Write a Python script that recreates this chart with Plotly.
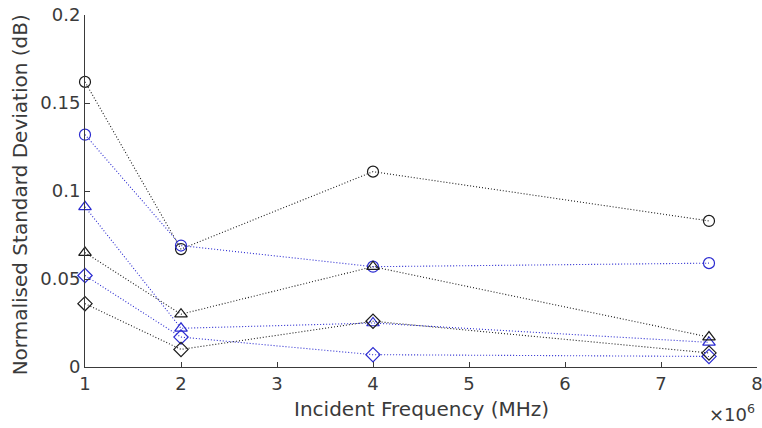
import plotly.graph_objects as go

# Incident frequencies (Hz)
freq = [1e6, 2e6, 4e6, 7.5e6]

# Normalised standard deviation (dB) per configuration
black_circle = [0.162, 0.067, 0.111, 0.083]
blue_circle = [0.132, 0.069, 0.057, 0.059]
blue_triangle = [0.091, 0.022, 0.025, 0.014]
black_triangle = [0.065, 0.030, 0.057, 0.017]
blue_diamond = [0.052, 0.017, 0.007, 0.006]
black_diamond = [0.036, 0.010, 0.026, 0.008]

x_tickvals = [1e6, 2e6, 3e6, 4e6, 5e6, 6e6, 7e6, 8e6]
x_ticktext = ["1", "2", "3", "4", "5", "6", "7", "8"]
y_tickvals = [0, 0.05, 0.1, 0.15, 0.2]
y_ticktext = ["0", "0.05", "0.1", "0.15", "0.2"]

BLACK = "#1a1a1a"
BLUE = "#2a2ad0"
AXIS = "#3a3a3a"
FONT = "DejaVu Sans"

series = [
    (black_circle, BLACK, "circle-open"),
    (blue_circle, BLUE, "circle-open"),
    (blue_triangle, BLUE, "triangle-up-open"),
    (black_triangle, BLACK, "triangle-up-open"),
    (blue_diamond, BLUE, "diamond-open"),
    (black_diamond, BLACK, "diamond-open"),
]

fig = go.Figure()
for vals, col, sym in series:
    fig.add_trace(go.Scatter(
        x=freq, y=vals, mode="lines+markers",
        line=dict(color=col, width=1.1, dash="1px,2px"),
        marker=dict(symbol=sym, size=11, color=col, line=dict(width=1.2, color=col)),
        showlegend=False, cliponaxis=False,
    ))

fig.update_layout(
    width=762, height=428,
    margin=dict(l=85, r=5, t=15, b=61),
    plot_bgcolor="white", paper_bgcolor="white",
    font=dict(family=FONT, size=18, color=AXIS),
)
fig.update_xaxes(
    range=[1e6, 8e6], tickvals=x_tickvals, ticktext=x_ticktext,
    showgrid=False, zeroline=False, showline=True, linecolor=AXIS, linewidth=1,
    ticks="inside", ticklen=5, tickcolor=AXIS, tickfont=dict(size=18, color=AXIS),
    mirror=False, automargin=False, ticklabeloverflow="allow",
)
fig.update_yaxes(
    range=[0, 0.2], tickvals=y_tickvals, ticktext=y_ticktext,
    showgrid=False, zeroline=False, showline=True, linecolor=AXIS, linewidth=1,
    ticks="inside", ticklen=5, tickcolor=AXIS, tickfont=dict(size=18, color=AXIS),
    mirror=False, automargin=False, ticklabeloverflow="allow",
)

fig.add_annotation(
    text="Incident Frequency (MHz)", xref="paper", yref="paper",
    x=0.5, y=-0.12, xanchor="center", yanchor="middle", showarrow=False,
    font=dict(family=FONT, size=20, color=AXIS),
)
fig.add_annotation(
    text="Normalised Standard Deviation (dB)", xref="paper", yref="paper",
    x=-0.097, y=0.49, xanchor="center", yanchor="middle", textangle=-90,
    showarrow=False, font=dict(family=FONT, size=20, color=AXIS),
)
fig.add_annotation(
    text="×10<sup>6</sup>", xref="paper", yref="paper",
    x=1.0, y=-0.13, xanchor="right", yanchor="middle", showarrow=False,
    font=dict(family=FONT, size=18, color=AXIS),
)

fig.write_html("out.html")
